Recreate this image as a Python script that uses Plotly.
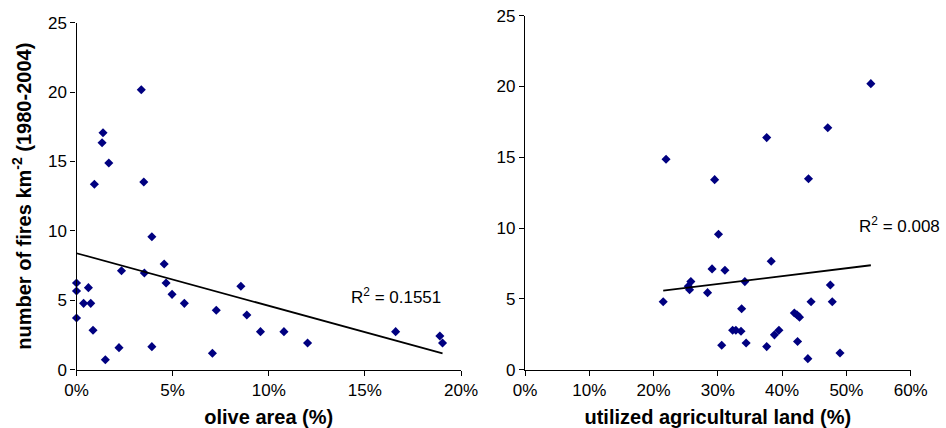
import plotly.graph_objects as go

# Left panel: olive area (%) vs number of fires
olive_x = [0.0, 0.0, 0.0, 0.37, 0.62, 0.74, 0.86, 0.93, 1.33, 1.38, 1.5, 1.68,
           2.21, 2.34, 3.37, 3.5, 3.53, 3.92, 3.92, 4.56, 4.66, 4.97, 5.61,
           7.07, 7.27, 8.55, 8.86, 9.57, 10.79, 12.02, 16.6, 18.9, 19.04]
olive_y = [6.25, 5.67, 3.72, 4.78, 5.91, 4.78, 2.84, 13.36, 16.35, 17.07, 0.72, 14.89,
           1.59, 7.13, 20.17, 13.52, 6.97, 9.58, 1.66, 7.62, 6.25, 5.43, 4.78,
           1.18, 4.28, 6.01, 3.94, 2.74, 2.74, 1.92, 2.74, 2.43, 1.92]
olive_trend = [8.39, -0.3787]  # intercept, slope
olive_r2 = "R<sup>2</sup> = 0.1551"

# Right panel: utilized agricultural land (%) vs number of fires
ual_x = [21.94, 29.5, 37.6, 44.1, 47.1, 53.8,
         21.5, 30.1, 29.1, 31.1, 38.3, 25.8, 25.4, 25.6, 28.4, 34.2, 47.5,
         44.5, 47.8, 33.7, 41.9, 42.3, 42.7, 32.3, 32.8, 33.6, 38.8, 39.5,
         30.6, 34.4, 37.6, 42.4, 44.0, 49.0]
ual_y = [14.86, 13.42, 16.39, 13.49, 17.09, 20.2,
         4.8, 9.57, 7.12, 7.02, 7.66, 6.22, 5.89, 5.65, 5.44, 6.22, 5.98,
         4.8, 4.8, 4.3, 4.0, 3.88, 3.71, 2.79, 2.79, 2.72, 2.46, 2.79,
         1.73, 1.89, 1.63, 1.99, 0.78, 1.18]
ual_trend = [4.385, 0.0556]  # intercept, slope
ual_r2 = "R<sup>2</sup> = 0.008"

x_ticks_left = [0, 5, 10, 15, 20]
x_ticks_right = [0, 10, 20, 30, 40, 50, 60]
y_ticks = [0, 5, 10, 15, 20, 25]

W, H = 946, 428
FONT = "Liberation Sans, Arial, sans-serif"
MARK = "#000080"

fig = go.Figure()

fig.add_trace(go.Scatter(x=olive_x, y=olive_y, mode="markers",
                         marker=dict(symbol="diamond", size=7, color=MARK),
                         xaxis="x", yaxis="y", showlegend=False, cliponaxis=False))
lx = [min(olive_x), max(olive_x)]
fig.add_trace(go.Scatter(x=lx, y=[olive_trend[0] + olive_trend[1] * v for v in lx],
                         mode="lines", line=dict(color="black", width=1.8),
                         xaxis="x", yaxis="y", showlegend=False))

fig.add_trace(go.Scatter(x=ual_x, y=ual_y, mode="markers",
                         marker=dict(symbol="diamond", size=7, color=MARK),
                         xaxis="x2", yaxis="y2", showlegend=False))
rx = [min(ual_x), max(ual_x)]
fig.add_trace(go.Scatter(x=rx, y=[ual_trend[0] + ual_trend[1] * v for v in rx],
                         mode="lines", line=dict(color="black", width=1.8),
                         xaxis="x2", yaxis="y2", showlegend=False))

axis_common = dict(showgrid=False, zeroline=False, showline=True, linecolor="black",
                   linewidth=1.2, ticks="outside", ticklen=5, tickcolor="black",
                   automargin=False,
                   tickfont=dict(family=FONT, size=17, color="black"))

fig.update_layout(
    width=W, height=H,
    margin=dict(l=0, r=0, t=0, b=0),
    paper_bgcolor="white", plot_bgcolor="white",
    font=dict(family=FONT, color="black"),
    xaxis=dict(domain=[76.5 / W, 461 / W], range=[0, 20], tickvals=x_ticks_left,
               ticktext=[f"{v}%" for v in x_ticks_left], anchor="y",
               title=dict(text="<b>olive area (%)</b>", font=dict(family=FONT, size=20),
                          standoff=13),
               **axis_common),
    yaxis=dict(domain=[1 - 369.7 / H, 1 - 22.7 / H], range=[0, 25], tickvals=y_ticks,
               anchor="x",
               title=dict(text="<b>number of fires km<sup>-2</sup> (1980-2004)</b>",
                          font=dict(family=FONT, size=20), standoff=11),
               **axis_common),
    xaxis2=dict(domain=[525 / W, 910.7 / W], range=[0, 60], tickvals=x_ticks_right,
                ticktext=[f"{v}%" for v in x_ticks_right], anchor="y2",
                title=dict(text="<b>utilized agricultural land (%)</b>",
                           font=dict(family=FONT, size=20), standoff=13),
                **axis_common),
    yaxis2=dict(domain=[1 - 369.7 / H, 1 - 15.7 / H], range=[0, 25], tickvals=y_ticks,
                anchor="x2", **axis_common),
    annotations=[
        dict(text=olive_r2, x=16.6, y=5.32, xref="x", yref="y", showarrow=False,
             font=dict(family=FONT, size=17, color="black")),
        dict(text=ual_r2, x=58.3, y=10.2, xref="x2", yref="y2", showarrow=False,
             font=dict(family=FONT, size=17, color="black")),
    ],
)

fig.write_html("out.html", config={"displayModeBar": False},
               post_script="document.body.style.margin='0';document.body.style.padding='0';")
